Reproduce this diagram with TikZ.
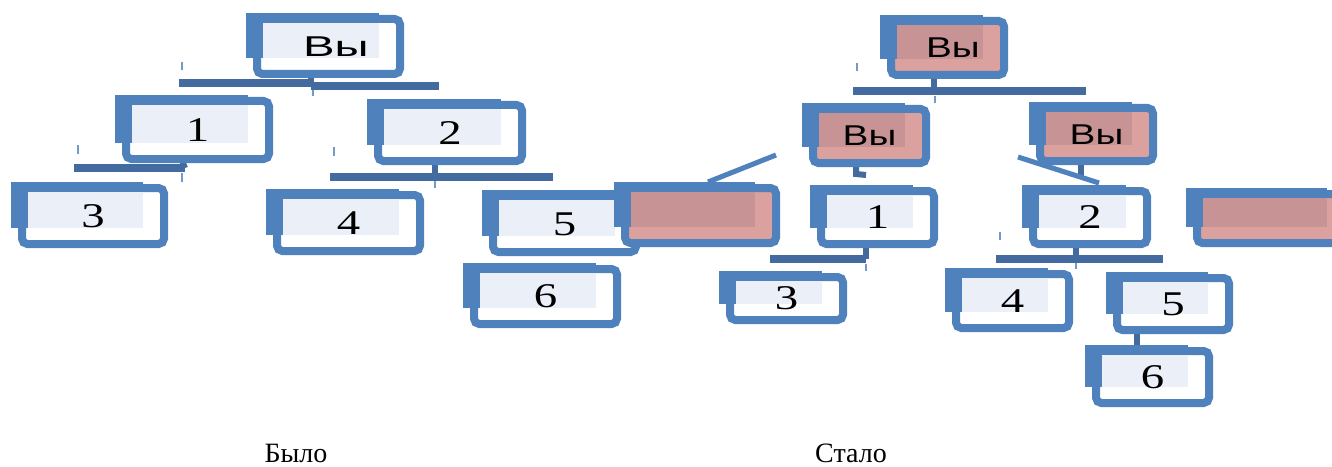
\documentclass[tikz,border=0pt]{standalone}
\usepackage{fontspec}
\usepackage{graphicx}
\setmainfont{Liberation Serif}
\newfontfamily\vysans{Liberation Sans}
\definecolor{boxblue}{HTML}{4F81BD}
\definecolor{barblue}{HTML}{436B9F}
\definecolor{lightfill}{HTML}{EBF0F8}
\definecolor{pinkB}{HTML}{DBA19F}
\definecolor{pinkA}{HTML}{C89395}
\tikzset{
  boxB/.style={draw=boxblue, line width=6pt, rounded corners=4pt, inner sep=0pt, outer sep=0pt},
  bar/.style={draw=barblue, line width=6.5pt},
  stem/.style={draw=barblue, line width=4.5pt},
  tick/.style={draw=boxblue!80, line width=0.9pt},
  diag/.style={draw=boxblue, line width=3.8pt},
  txt/.style={inner sep=0pt},
  caption/.style={font=\fontsize{21}{24}\selectfont, anchor=base, inner sep=0pt}
}
\newcommand\VyL{\scalebox{1.65}[1]{\vysans\fontsize{21.5}{24}\selectfont Вы}}
\newcommand\VyR{\scalebox{1.35}[1]{\vysans\fontsize{21.5}{24}\selectfont Вы}}
\newcommand\dig[1]{\scalebox{1.35}[1]{\fontsize{26}{28}\selectfont #1}}
\newcommand\mybox[9]{%
  \pgfmathsetmacro\bw{(#4-#2-15)*0.75}%
  \pgfmathsetmacro\bh{(#5-#3-10)*0.75}%
  \node[boxB, fill=#6, minimum width=\bw pt, minimum height=\bh pt] (#1) at ({(#2+#4+7)/2},{(#3+#5+2)/2}) {};%
  \fill[boxblue] (#2,#3) rectangle (#4-25,#5-20);%
  \fill[#7] (#2+17,#3+10) rectangle (#4-25,#5-20);%
  \node[txt,#8] (#1t) at (#1.center) {#9};%
}
\begin{document}
\begin{tikzpicture}[x=0.75pt,y=-0.75pt]
\useasboundingbox (0,0) rectangle (1332,467);
\clip (0,0) rectangle (1332,467);

% ---------- connector coordinates (left) ----------
\coordinate (b0s) at (311,72);
\coordinate (b0a) at (179,83);
\coordinate (b0m) at (311,83);
\coordinate (b0n) at (311,86);
\coordinate (b0b) at (439,86);
\coordinate (b1s) at (181,158);
\coordinate (b1a) at (74,168);
\coordinate (b1b) at (185,168);
\coordinate (b2s) at (435,160);
\coordinate (b2a) at (330,177);
\coordinate (b2b) at (553,177);
% ---------- connector coordinates (right) ----------
\coordinate (r0s) at (934,74);
\coordinate (r0a) at (853,91);
\coordinate (r0b) at (1086,91);
\coordinate (r0m) at (934,91);
\coordinate (rh1) at (856,162);
\coordinate (rh2) at (856,174);
\coordinate (rh3) at (866,175);
\coordinate (rbs1) at (1081,160);
\coordinate (rbs2) at (1081,176);
\coordinate (r1s) at (866,244);
\coordinate (r1a) at (770,259);
\coordinate (r1b) at (866,259);
\coordinate (r2s) at (1076,244);
\coordinate (r2a) at (996,259);
\coordinate (r2b) at (1163,259);
\coordinate (r56a) at (1137,325);
\coordinate (r56b) at (1137,346);
\coordinate (dl1) at (776,155);
\coordinate (dl2) at (708,182);
\coordinate (dr1) at (1018,157);
\coordinate (dr2) at (1099,183);

% ticks
\coordinate (t1a) at (182,62);  \coordinate (t1b) at (182,70);
\coordinate (t2a) at (313,90);  \coordinate (t2b) at (313,96);
\coordinate (t3a) at (78,145);  \coordinate (t3b) at (78,154);
\coordinate (t4a) at (182,173); \coordinate (t4b) at (182,182);
\coordinate (t5a) at (334,147); \coordinate (t5b) at (334,156);
\coordinate (t6a) at (435,181); \coordinate (t6b) at (435,188);
\coordinate (t7a) at (857,63);  \coordinate (t7b) at (857,71);
\coordinate (t8a) at (935,96);  \coordinate (t8b) at (935,103);
\coordinate (t9a) at (866,264); \coordinate (t9b) at (866,271);
\coordinate (t10a) at (1000,232); \coordinate (t10b) at (1000,240);
\coordinate (t11a) at (1076,263); \coordinate (t11b) at (1076,269);

% bars (behind boxes)
\draw[stem] (b0s) -- (b0m);
\draw[bar] (b0a) -- (b0m);
\draw[bar] (b0n) -- (b0b);
\draw[stem] (b1s) -- (b1b);
\draw[bar,rounded corners=2pt] (b1a) -- (b1b);
\draw[stem] (b2s) -- (b2s |- b2a);
\draw[bar] (b2a) -- (b2b);
\draw[stem] (r0s) -- (r0m);
\draw[bar] (r0a) -- (r0b);
\draw[stem] (rh1) -- (rh2) -- (rh3);
\draw[stem] (rbs1) -- (rbs2);
\draw[stem] (r1s) -- (r1b);
\draw[bar] (r1a) -- (r1b);
\draw[stem] (r2s) -- (r2s |- r2a);
\draw[bar] (r2a) -- (r2b);
\draw[stem] (r56a) -- (r56b);
\foreach \i in {1,...,11} { \draw[tick] (t\i a) -- (t\i b); }

% ---------- left tree ----------
\mybox{LVy}{246}{13}{404}{78}{white}{lightfill}{xshift=5.5pt}{\VyL}
\mybox{L1}{115}{95}{273}{163}{white}{lightfill}{}{\dig{1}}
\mybox{L2}{367}{99}{526}{165}{white}{lightfill}{}{\dig{2}}
\mybox{L3}{11}{182}{168}{248}{white}{lightfill}{}{\dig{3}}
\mybox{L4}{266}{189}{424}{255}{white}{lightfill}{}{\dig{4}}
\mybox{L5}{482}{190}{640}{256}{white}{lightfill}{}{\dig{5}}
\mybox{L6}{463}{263}{621}{328}{white}{lightfill}{}{\dig{6}}

% ---------- right tree ----------
\mybox{RVy}{880}{15}{1008}{79}{pinkB}{pinkA}{xshift=4pt}{\VyR}
\mybox{RA}{802}{103}{930}{167}{pinkB}{pinkA}{}{\VyR}
\mybox{RB}{1029}{102}{1157}{165}{pinkB}{pinkA}{}{\VyR}
\mybox{RP1}{614}{182}{780}{247}{pinkB}{pinkA}{}{}
\mybox{R1}{810}{185}{938}{248}{white}{lightfill}{}{\dig{1}}
\mybox{R2}{1022}{185}{1151}{248}{white}{lightfill}{}{\dig{2}}
\mybox{RP2}{1186}{188}{1352}{247}{pinkB}{pinkA}{}{}
\mybox{R3}{719}{271}{847}{324}{white}{lightfill}{}{\dig{3}}
\mybox{R4}{945}{268}{1073}{332}{white}{lightfill}{}{\dig{4}}
\mybox{R5}{1106}{272}{1233}{334}{white}{lightfill}{}{\dig{5}}
\mybox{R6}{1085}{345}{1213}{407}{white}{lightfill}{}{\dig{6}}

% diagonal connectors
\draw[diag] (dl1) -- (dl2);
\draw[diag] (dr1) -- (dr2);

% captions
\node[caption] (capL) at (296,462) {Было};
\node[caption] (capR) at (851,462) {Стало};
\end{tikzpicture}
\end{document}
